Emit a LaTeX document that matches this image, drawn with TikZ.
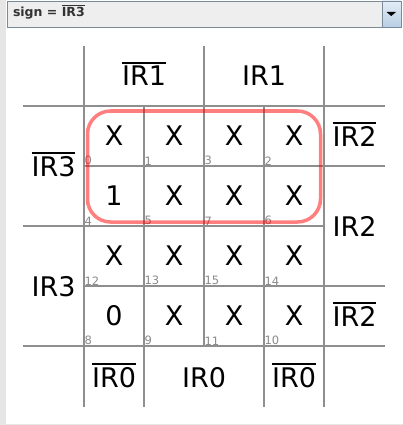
\documentclass[tikz,border=0pt]{standalone}
\usepackage{fontspec}
\setmainfont{DejaVu Sans}
\usepackage{xcolor}
\usetikzlibrary{positioning}
\usetikzlibrary{calc}
\definecolor{gridgray}{HTML}{8E8E8E}
\definecolor{idxgray}{HTML}{8A8A8A}
\definecolor{boxframe}{HTML}{7A8A99}
\definecolor{boxfill}{HTML}{EEEEEE}
\definecolor{btntop}{HTML}{E4EDF6}
\definecolor{btnbottom}{HTML}{B9CEE4}
\definecolor{paneledge}{HTML}{E6E6E6}
\definecolor{signtext}{HTML}{333333}

\newcommand{\compl}[1]{\leavevmode\vbox{\hrule height .08em\kern .08em\hbox{#1}}}

\begin{document}
\begin{tikzpicture}[x=1pt, y=-1pt, every node/.style={inner sep=0pt, outer sep=0pt}]
    \def\cellsize{60pt}
    \def\bigfont{\fontsize{27}{30}\selectfont}
    \def\idxfont{\fontsize{11.5}{13}\selectfont}
    \useasboundingbox (0,0) rectangle (403,425);
    % window and selector
    \fill[paneledge] (0,0) rectangle (403,425);
    \fill[white] (6,0) rectangle (403,423.5);
    \filldraw[fill=boxfill, draw=boxframe] (7,1) rectangle (382,27);
    \shadedraw[top color=btntop, bottom color=btnbottom, draw=boxframe] (382,1) rectangle (401,27);
    \fill (386.5,12) -- (396,12) -- (391.25,16) -- cycle;
    \node[anchor=base west, text=signtext, font=\bfseries\fontsize{12.5}{14}\selectfont] (sign) at (13,16.7) {sign = \compl{IR3}};
    % grid
    \begin{scope}[draw=gridgray, line width=2pt]
        \draw (23,106) -- (385,106);
        \draw (84,166) -- (385,166);
        \draw (23,226) -- (324,226);
        \draw (84,286) -- (385,286);
        \draw (23,346) -- (385,346);
        \draw (84,46) -- (84,407);
        \draw (144,106) -- (144,407);
        \draw (204,46) -- (204,346);
        \draw (264,106) -- (264,407);
        \draw (324,46) -- (324,407);
    \end{scope}
    % cells
    \begin{scope}[every node/.style={minimum width=\cellsize, minimum height=\cellsize, inner sep=0pt, outer sep=0pt, font=\bigfont}]
        \node (c0) at (114,136) {X};
        \node[right=0pt of c0] (c1) {X};
        \node[right=0pt of c1] (c3) {X};
        \node[right=0pt of c3] (c2) {X};
        \node[below=0pt of c0] (c4) {1};
        \node[right=0pt of c4] (c5) {X};
        \node[right=0pt of c5] (c7) {X};
        \node[right=0pt of c7] (c6) {X};
        \node[below=0pt of c4] (c12) {X};
        \node[right=0pt of c12] (c13) {X};
        \node[right=0pt of c13] (c15) {X};
        \node[right=0pt of c15] (c14) {X};
        \node[below=0pt of c12] (c8) {0};
        \node[right=0pt of c8] (c9) {X};
        \node[right=0pt of c9] (c11) {X};
        \node[right=0pt of c11] (c10) {X};
    \end{scope}
    % cell numbers
    \begin{scope}[every node/.style={anchor=south west, inner sep=0pt, outer sep=0pt, text=idxgray, font=\idxfont, xshift=0.5pt, yshift=1pt}]
        \node (i0) at (c0.south west) {0};
        \node (i1) at (c1.south west) {1};
        \node (i3) at (c3.south west) {3};
        \node (i2) at (c2.south west) {2};
        \node (i4) at (c4.south west) {4};
        \node (i5) at (c5.south west) {5};
        \node (i7) at (c7.south west) {7};
        \node (i6) at (c6.south west) {6};
        \node (i12) at (c12.south west) {12};
        \node (i13) at (c13.south west) {13};
        \node (i15) at (c15.south west) {15};
        \node (i14) at (c14.south west) {14};
        \node (i8) at (c8.south west) {8};
        \node (i9) at (c9.south west) {9};
        \node (i11) at (c11.south west) {11};
        \node (i10) at (c10.south west) {10};
    \end{scope}
    % variable labels
    \begin{scope}[every node/.style={anchor=base, inner sep=0pt, outer sep=0pt, font=\bigfont}]
        \node (ir1n) at (144,86) {\compl{IR1}};
        \node (ir1) at (264,86) {IR1};
        \node (ir3n) at (53.5,176) {\compl{IR3}};
        \node (ir3) at (53.5,296) {IR3};
        \node (ir2n) at (354.5,146) {\compl{IR2}};
        \node (ir2) at (354.5,236) {IR2};
        \node (ir2nb) at (354.5,326) {\compl{IR2}};
        \node (ir0n) at (114,387) {\compl{IR0}};
        \node (ir0) at (204,387) {IR0};
        \node (ir0nb) at (294,387) {\compl{IR0}};
    \end{scope}
    % group
    \draw[red, draw opacity=0.5, line width=3.5pt, rounded corners=23pt] ($(c0.north west)+(3.5,5)$) rectangle ($(c6.south east)+(-3.5,-4)$);
\end{tikzpicture}
\end{document}
